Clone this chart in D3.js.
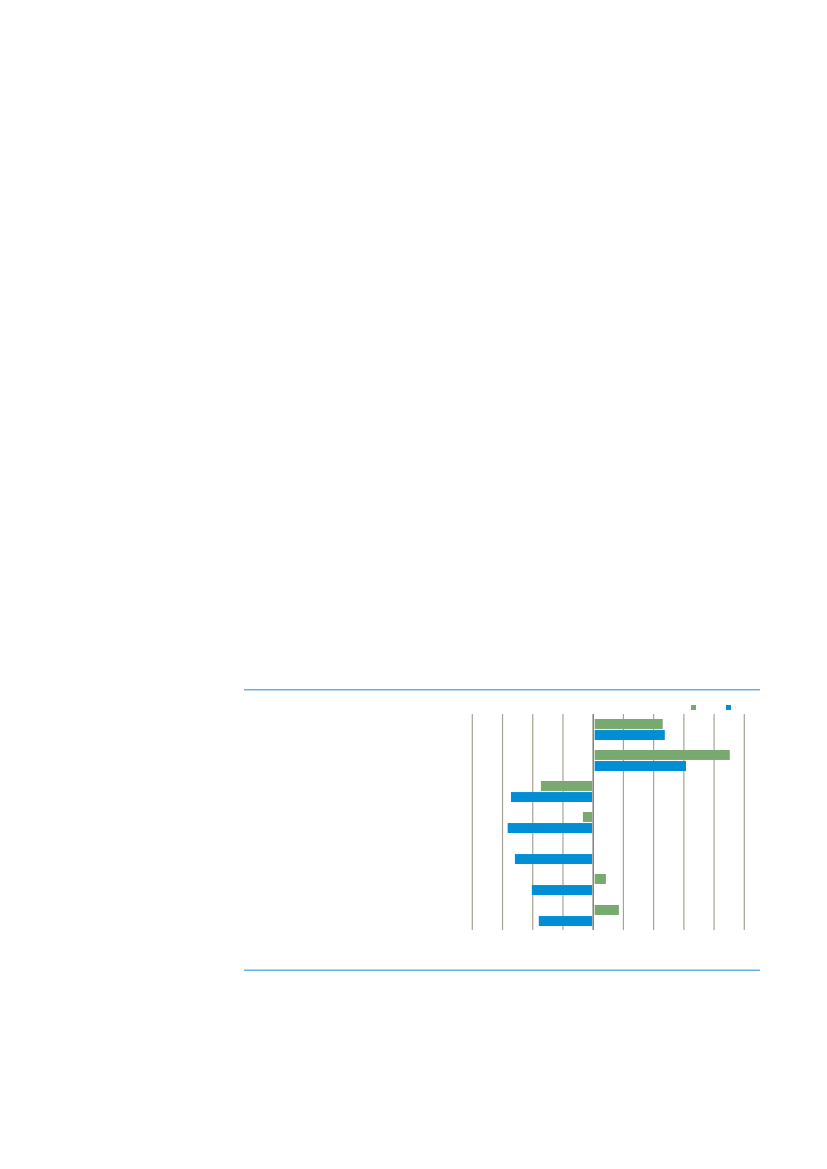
<!DOCTYPE html>
<html lang="en">
<head>
    <meta charset="UTF-8">
    <title>Bar chart</title>
    <style>
        body {
            margin: 0;
            padding: 0;
            background-color: #ffffff;
        }
        svg {
            display: block;
        }
    </style>
    <script src="https://d3js.org/d3.v7.min.js"></script>
</head>
<body>
    <script>
        // data (no labels are printed in the reference)
        const categories = ["r1", "r2", "r3", "r4", "r5", "r6", "r7"];
        const seriesNames = ["green", "blue"];
        const greenValues = [2.3, 4.52, -1.73, -0.34, 0, 0.42, 0.85];
        const blueValues = [2.37, 3.07, -2.72, -2.83, -2.59, -2.03, -1.8];
        const tickValues = [-4, -3, -2, -1, 0, 1, 2, 3, 4, 5];

        const width = 827;
        const height = 1169;

        const colors = { green: "#78a96e", blue: "#008fd5" };

        const svg = d3.select("body").append("svg")
            .attr("width", width)
            .attr("height", height);

        const x = d3.scaleLinear()
            .domain([-4, 5])
            .range([472.3, 744.3]);

        const y = d3.scaleBand()
            .domain(categories)
            .range([714, 931]);

        const ySub = d3.scaleBand()
            .domain(seriesNames)
            .range([5, 26])
            .paddingInner(0.1);

        // frame rules
        svg.append("line")
            .attr("x1", 244).attr("x2", 760)
            .attr("y1", 689.8).attr("y2", 689.8)
            .attr("stroke", "#62b3e4")
            .attr("stroke-width", 1.4);
        svg.append("line")
            .attr("x1", 244).attr("x2", 760)
            .attr("y1", 970.3).attr("y2", 970.3)
            .attr("stroke", "#62b3e4")
            .attr("stroke-width", 1.4);

        // gridlines
        svg.append("g")
            .selectAll("line")
            .data(tickValues.filter(d => d !== 0))
            .enter().append("line")
            .attr("x1", d => x(d)).attr("x2", d => x(d))
            .attr("y1", 714).attr("y2", 930)
            .attr("stroke", "#a6a592")
            .attr("stroke-width", 1.2);

        const rows = categories.map((c, i) => ({
            cat: c,
            values: [
                { key: "green", value: greenValues[i] },
                { key: "blue", value: blueValues[i] }
            ]
        }));

        const row = svg.append("g")
            .selectAll("g")
            .data(rows)
            .enter().append("g")
            .attr("transform", d => `translate(0,${y(d.cat)})`);

        row.selectAll("rect")
            .data(d => d.values.filter(v => v.value !== 0))
            .enter().append("rect")
            .attr("x", d => d.value > 0 ? x(0) + 1.5 : x(d.value))
            .attr("width", d => d.value > 0 ? x(d.value) - x(0) - 1.5 : x(0) - 1 - x(d.value))
            .attr("y", d => ySub(d.key))
            .attr("height", ySub.bandwidth())
            .attr("fill", d => colors[d.key]);

        // zero line
        svg.append("line")
            .attr("x1", x(0)).attr("x2", x(0))
            .attr("y1", 714).attr("y2", 930)
            .attr("stroke", "#6e6d5c")
            .attr("stroke-width", 1.3);

        // legend (swatches only)
        const legendX = d3.scaleOrdinal()
            .domain(seriesNames)
            .range([691, 726]);

        svg.append("g")
            .selectAll("rect")
            .data(seriesNames)
            .enter().append("rect")
            .attr("x", d => legendX(d))
            .attr("y", 705)
            .attr("width", 5)
            .attr("height", 5)
            .attr("fill", d => colors[d]);
    </script>
</body>
</html>
